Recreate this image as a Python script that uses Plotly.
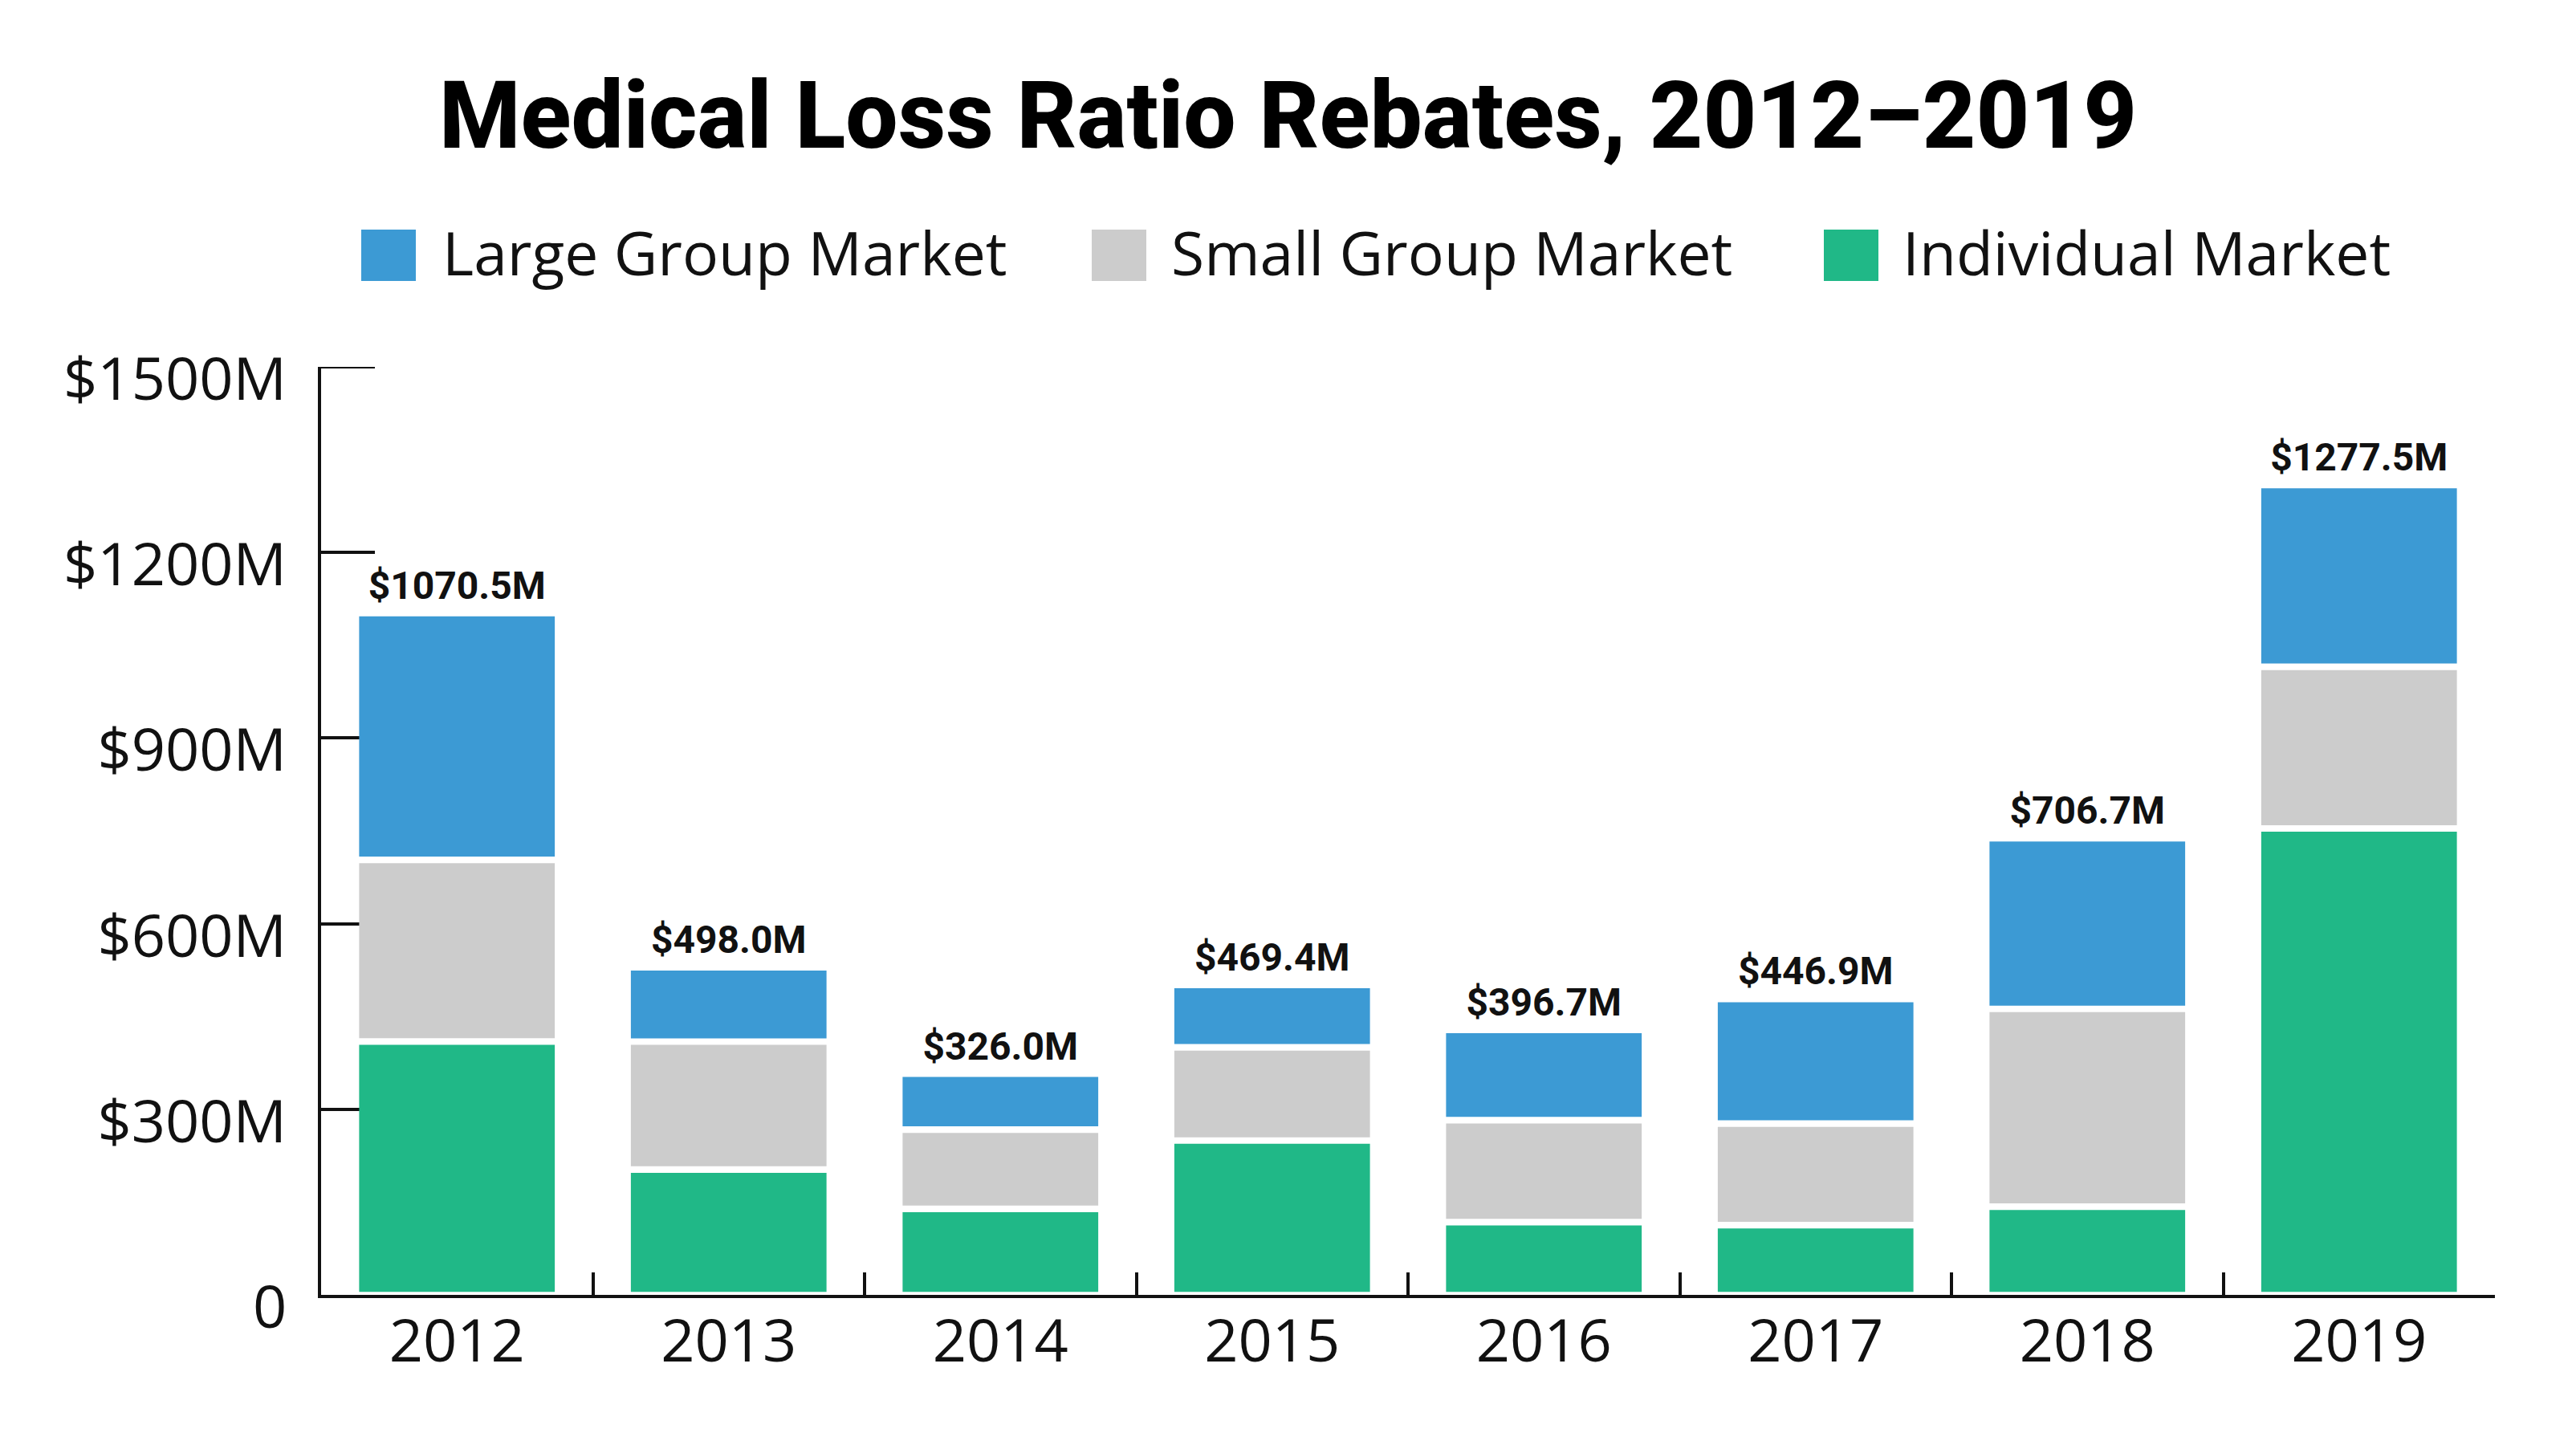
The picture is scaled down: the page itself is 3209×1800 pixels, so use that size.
import plotly.graph_objects as go
import numpy as np

# ---- data ----
years = ["2012", "2013", "2014", "2015", "2016", "2017", "2018", "2019"]
individual = [399.3, 192.3, 128.6, 239.2, 107.3, 102.5, 132.3, 743.6]
small_group = [283.0, 196.2, 117.6, 140.1, 154.1, 153.4, 309.1, 250.6]
large_group = [388.2, 109.5, 79.8, 90.1, 135.3, 191.0, 265.3, 283.3]
y_tickvals = [0, 300, 600, 900, 1200, 1500]
y_ticktext = ["0", "$300M", "$600M", "$900M", "$1200M", "$1500M"]

# ---- style ----
W, H = 3209, 1800
ML, MR, MT, MB = 400, 101, 457, 187
C_LARGE = "#3c9ad4"
C_SMALL = "#cccccc"
C_IND = "#20b887"
INK = "#111111"
BOTTOM_GAP = 5.0   # visual gap (data units) between axis and first segment
SEG_GAP = 10.6     # visual white gap between stacked segments
LABEL_LIFT = 13.0  # extra lift of total labels above the bar top
Y_MAX = 1500

ind = np.array(individual)
sml = np.array(small_group)
lrg = np.array(large_group)
totals = ind + sml + lrg

base_ind = np.full(len(years), BOTTOM_GAP)
base_sml = base_ind + ind + SEG_GAP
base_lrg = base_sml + sml + SEG_GAP
tops = base_lrg + lrg

fig = go.Figure()
fig.add_trace(go.Bar(x=years, y=ind, base=base_ind, name="Individual Market",
                     marker=dict(color=C_IND, line=dict(width=0)), showlegend=False))
fig.add_trace(go.Bar(x=years, y=sml, base=base_sml, name="Small Group Market",
                     marker=dict(color=C_SMALL, line=dict(width=0)), showlegend=False))
fig.add_trace(go.Bar(x=years, y=lrg, base=base_lrg, name="Large Group Market",
                     marker=dict(color=C_LARGE, line=dict(width=0)), showlegend=False))

fig.add_trace(go.Scatter(
    x=years, y=tops + LABEL_LIFT, mode="text",
    text=[f"${t:.1f}M" for t in totals],
    textposition="top center",
    textfont=dict(family="Roboto", size=48, color=INK, weight=700),
    showlegend=False, hoverinfo="skip", cliponaxis=False,
))

pw = W - ML - MR
ph = H - MT - MB


def px_x(p):
    return (p - ML) / pw


def px_y(p):
    return (H - MB - p) / ph


# manual legend (large swatches)
legend_items = [("Large Group Market", C_LARGE, 450, 549),
                ("Small Group Market", C_SMALL, 1360, 1457),
                ("Individual Market", C_IND, 2272, 2368)]
shapes = []
annotations = []
for label, col, sx, tx in legend_items:
    shapes.append(dict(type="rect", xref="paper", yref="paper",
                       x0=px_x(sx), x1=px_x(sx + 68), y0=px_y(286), y1=px_y(350),
                       fillcolor=col, line=dict(width=0), layer="above"))
    annotations.append(dict(text=label, xref="paper", yref="paper",
                            x=px_x(tx), y=px_y(314), xanchor="left", yanchor="middle",
                            showarrow=False,
                            font=dict(family="Open Sans", size=75, color=INK)))

# top tick of the y axis (plotly drops the tick sitting on the range end)
shapes.append(dict(type="line", xref="paper", yref="y",
                   x0=px_x(ML - 2), x1=px_x(ML + 67), y0=Y_MAX, y1=Y_MAX,
                   line=dict(color=INK, width=4), layer="below"))

fig.update_layout(
    width=W, height=H, autosize=False,
    margin=dict(l=ML, r=MR, t=MT, b=MB, pad=0),
    paper_bgcolor="white", plot_bgcolor="white",
    barmode="overlay", bargap=0.28,
    title=dict(text="Medical Loss Ratio Rebates, 2012–2019",
               x=0.5, xanchor="center", y=1 - 143 / H, yanchor="middle",
               font=dict(family="Roboto", size=116, color="#000000", weight=800)),
    shapes=shapes, annotations=annotations,
    xaxis=dict(type="category", showgrid=False, showline=True, linecolor=INK, linewidth=4,
               ticks="inside", tickson="boundaries", ticklen=28, tickwidth=4, tickcolor=INK,
               tickfont=dict(family="Open Sans", size=74, color=INK),
               ticklabelstandoff=-10,
               layer="below traces", fixedrange=True),
    yaxis=dict(range=[0, Y_MAX], showgrid=False, zeroline=False, showline=True,
               linecolor=INK, linewidth=4,
               tickmode="array", tickvals=y_tickvals, ticktext=y_ticktext,
               ticks="inside", ticklen=67, tickwidth=4, tickcolor=INK,
               tickfont=dict(family="Open Sans", size=74, color=INK),
               ticklabelshift=15, ticklabelstandoff=24,
               layer="below traces", fixedrange=True),
)

fig.write_html("out.html")
